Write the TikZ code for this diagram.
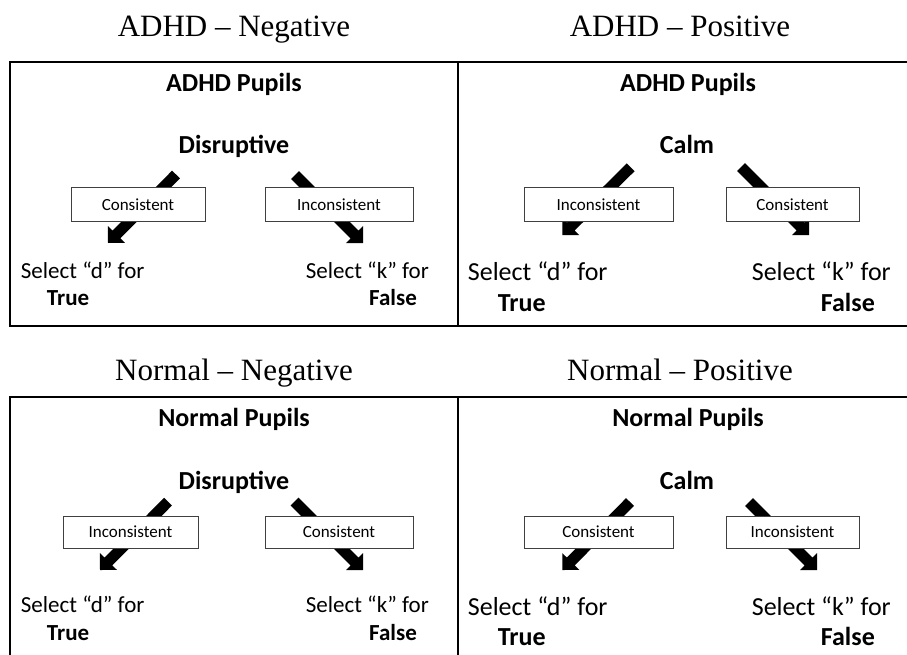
\documentclass[tikz,border=0pt]{standalone}
\usepackage{fontspec}
\setmainfont{Carlito}
\newfontfamily\tnr{Liberation Serif}
\usetikzlibrary{calc}
\tikzset{
  title/.style={anchor=base,inner sep=0pt,font=\tnr\fontsize{31}{34}\selectfont},
  head/.style={anchor=base,inner sep=0pt,font=\bfseries\fontsize{26}{30}\selectfont},
  sel/.style={inner sep=0pt,font=\fontsize{#1}{#1}\selectfont},
  tf/.style={inner sep=0pt,font=\bfseries\fontsize{#1}{#1}\selectfont},
  cbox/.style={draw=black!75,line width=1pt,fill=white,inner sep=0pt,minimum height=33pt,font=\fontsize{17}{20}\selectfont},
  frame/.style={draw=black,line width=2pt},
}
\newcommand\barrow[2]{%
  \path ($(#2)!12pt!(#1)$) coordinate (hb);
  \fill (#2) -- ($(hb)!12pt!90:(#2)$) -- ($(hb)!5.5pt!90:(#2)$) -- ($(#1)!5.5pt!90:(#2)$)
    -- ($(#1)!5.5pt!-90:(#2)$) -- ($(hb)!5.5pt!-90:(#2)$) -- ($(hb)!12pt!-90:(#2)$) -- cycle;}
\begin{document}
\begin{tikzpicture}[x=1pt,y=-1pt]
\useasboundingbox (0,0) rectangle (907,655);
\clip (0,0) rectangle (907,655);
% titles
\node[title] (t1) at (234,36.7) {ADHD – Negative};
\node[title] (t2) at (680,36.7) {ADHD – Positive};
\node[title] (t3) at (234,380) {Normal – Negative};
\node[title] (t4) at (680,380) {Normal – Positive};
% frames
\draw[frame] (10,62.5) rectangle (458,325.5);
\draw[frame] (458,62.5) rectangle (915,325.5);
\draw[frame] (10,397) rectangle (458,670);
\draw[frame] (458,397) rectangle (915,670);
% arrow coordinates
\coordinate (a1s) at (176,174.5); \coordinate (a1e) at (108,243);
\coordinate (a2s) at (295,175);   \coordinate (a2e) at (363,243);
\coordinate (a3s) at (630.7,167.3); \coordinate (a3e) at (562.3,235);
\coordinate (a4s) at (741,167);   \coordinate (a4e) at (809,235);
\coordinate (a5s) at (168,501.7); \coordinate (a5e) at (100,570);
\coordinate (a6s) at (294.5,501.5); \coordinate (a6e) at (363,570);
\coordinate (a7s) at (630,502);   \coordinate (a7e) at (562.3,570);
\coordinate (a8s) at (749,502);   \coordinate (a8e) at (817,570);
\barrow{a1s}{a1e}\barrow{a2s}{a2e}\barrow{a3s}{a3e}\barrow{a4s}{a4e}
\barrow{a5s}{a5e}\barrow{a6s}{a6e}\barrow{a7s}{a7e}\barrow{a8s}{a8e}
% boxes
\node[cbox,minimum width=134pt] (b1) at (138,204.5) {Consistent};
\node[cbox,minimum width=148pt] (b2) at (339,204.5) {Inconsistent};
\node[cbox,minimum width=149pt] (b3) at (598.5,204.5) {Inconsistent};
\node[cbox,minimum width=133pt] (b4) at (792.5,204.5) {Consistent};
\node[cbox,minimum width=135pt,minimum height=32pt] (b5) at (130.5,532) {Inconsistent};
\node[cbox,minimum width=148pt,minimum height=32pt] (b6) at (339,532) {Consistent};
\node[cbox,minimum width=149pt,minimum height=32pt] (b7) at (598.5,532) {Consistent};
\node[cbox,minimum width=133pt,minimum height=32pt] (b8) at (792.5,532) {Inconsistent};
% headings
\node[head] (h1) at (234,91.7) {ADHD Pupils};
\node[head] (c1) at (234,154) {Disruptive};
\node[head] (h2) at (688,91.7) {ADHD Pupils};
\node[head] (c2) at (687,154) {Calm};
\node[head] (h3) at (234,426.7) {Normal Pupils};
\node[head] (c3) at (234,489.3) {Disruptive};
\node[head] (h4) at (688,426.7) {Normal Pupils};
\node[head] (c4) at (687,489.3) {Calm};
% select texts
\node[sel=23,anchor=base west] (s1d) at (20.7,278.3) {Select “d” for};
\node[tf=23,anchor=base west] (s1t) at (46.7,305) {True};
\node[sel=23,anchor=base east] (s1k) at (429,278.3) {Select “k” for};
\node[tf=23,anchor=base east] (s1f) at (417,305) {False};
\node[sel=26,anchor=base west] (s2d) at (467.7,280) {Select “d” for};
\node[tf=26,anchor=base west] (s2t) at (497.7,311.7) {True};
\node[sel=26,anchor=base east] (s2k) at (891,280) {Select “k” for};
\node[tf=26,anchor=base east] (s2f) at (875,311.7) {False};
\node[sel=23,anchor=base west] (s3d) at (20.7,612.7) {Select “d” for};
\node[tf=23,anchor=base west] (s3t) at (46.7,640.7) {True};
\node[sel=23,anchor=base east] (s3k) at (429,612.7) {Select “k” for};
\node[tf=23,anchor=base east] (s3f) at (417,640.7) {False};
\node[sel=26,anchor=base west] (s4d) at (467.7,615) {Select “d” for};
\node[tf=26,anchor=base west] (s4t) at (497.7,645) {True};
\node[sel=26,anchor=base east] (s4k) at (891,615) {Select “k” for};
\node[tf=26,anchor=base east] (s4f) at (875,645) {False};
\end{tikzpicture}
\end{document}
